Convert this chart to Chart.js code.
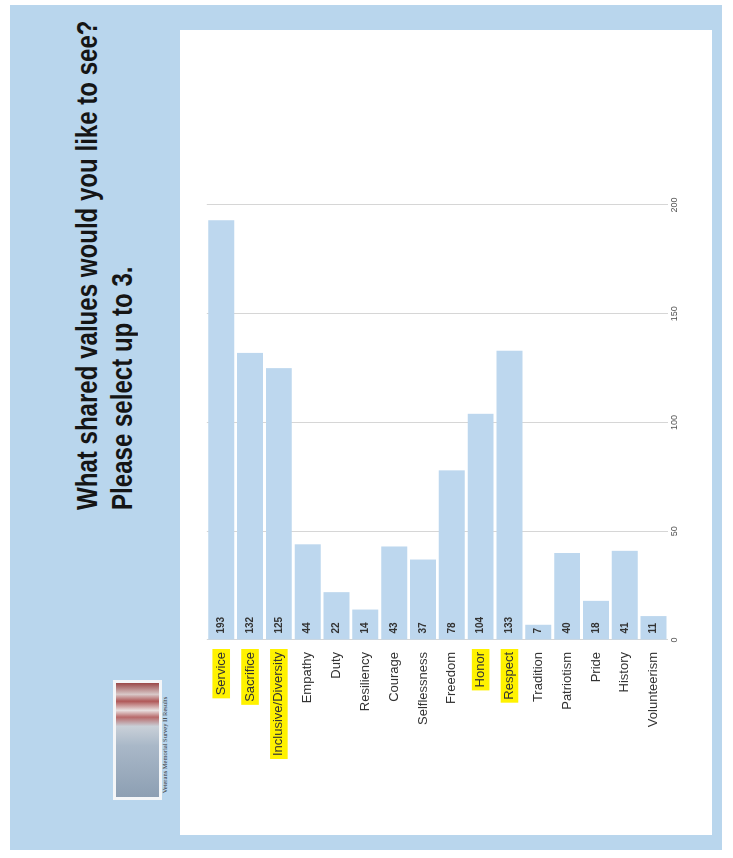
<!DOCTYPE html>
<html>
<head>
<meta charset="utf-8">
<script src="https://cdn.jsdelivr.net/npm/chart.js@4"></script>
<style>
  html, body { margin: 0; padding: 0; background: #fff; }
  body { width: 733px; height: 858px; position: relative; overflow: hidden; }
  /* the slide is laid out upright and then turned a quarter to the left */
  #slide {
    position: absolute; left: 0; top: 0; width: 858px; height: 733px;
    transform-origin: 0 0; transform: translate(0, 858px) rotate(-90deg);
  }
  #frame { position: absolute; left: 8px; top: 10px; width: 845px; height: 712px; background: #b9d6ed; }
  #panel { position: absolute; left: 23px; top: 180px; width: 805px; height: 532px; background: #fff; }
  #title {
    position: absolute; left: 348px; top: 70px;
    font-family: "Liberation Sans", Arial, sans-serif;
    font-weight: bold; font-size: 29px; line-height: 35px; color: #151515; white-space: nowrap;
    transform-origin: 0 0; transform: scaleX(0.83);
  }
  #thumb {
    position: absolute; left: 58px; top: 113px; width: 114px; height: 43px;
    border: 3px solid #f4f6f8;
    background: linear-gradient(90deg, #8d9fb3 0%, #a9b8c8 45%, #c9d0d8 62%, #b86a6a 70%, #e8e0e0 76%, #b05858 84%, #d8c8c8 90%, #9a4848 100%);
  }
  #caption {
    position: absolute; left: 41px; top: 161px; width: 144px; text-align: center;
    font-family: "Liberation Serif", serif; font-size: 6.5px; color: #333; white-space: nowrap;
  }
  #chartBox { position: absolute; left: 30px; top: 195px; width: 660px; height: 500px; }
</style>
</head>
<body>
<div id="slide">
  <div id="frame"></div>
  <div id="panel"></div>
  <div id="title">What shared values would you like to see?<br>Please select up to 3.</div>
  <div id="thumb"></div>
  <div id="caption">Veterans Memorial Survey II Results</div>
  <div id="chartBox"><canvas id="valuesChart" width="660" height="500"></canvas></div>
</div>

<script>
// Survey answers
const categories = ['Service', 'Sacrifice', 'Inclusive/Diversity', 'Empathy', 'Duty', 'Resiliency',
  'Courage', 'Selflessness', 'Freedom', 'Honor', 'Respect', 'Tradition', 'Patriotism', 'Pride',
  'History', 'Volunteerism'];
const votes = [193, 132, 125, 44, 22, 14, 43, 37, 78, 104, 133, 7, 40, 18, 41, 11];
const highlighted = ['Service', 'Sacrifice', 'Inclusive/Diversity', 'Honor', 'Respect'];
const valueTicks = [0, 50, 100, 150, 200];

// Count written at the base of each bar
const barLabels = {
  id: 'barLabels',
  afterDatasetsDraw(chart) {
    const ctx = chart.ctx;
    const meta = chart.getDatasetMeta(0);
    ctx.save();
    ctx.font = 'bold 10px "Liberation Sans", sans-serif';
    ctx.fillStyle = '#333';
    ctx.textAlign = 'left';
    ctx.textBaseline = 'middle';
    meta.data.forEach((bar, i) => {
      ctx.fillText(String(votes[i]), bar.base + 6, bar.y);
    });
    ctx.restore();
  }
};

new Chart(document.getElementById('valuesChart').getContext('2d'), {
  type: 'bar',
  data: {
    labels: categories,
    datasets: [{
      data: votes,
      backgroundColor: '#bdd7ee',
      barPercentage: 0.9,
      categoryPercentage: 1.0
    }]
  },
  options: {
    indexAxis: 'y',
    responsive: false,
    animation: false,
    layout: { padding: { top: 10, right: 37, left: 0, bottom: 0 } },
    plugins: { legend: { display: false }, tooltip: { enabled: false } },
    scales: {
      x: {
        min: valueTicks[0],
        max: valueTicks[valueTicks.length - 1],
        afterBuildTicks: scale => { scale.ticks = valueTicks.map(v => ({ value: v })); },
        grid: { color: '#d6d6d6', drawTicks: false },
        border: { display: false },
        ticks: { color: '#555', font: { size: 9, family: 'Liberation Sans' }, padding: 1 },
        afterFit: scale => { scale.height = 27; }
      },
      y: {
        grid: { display: false },
        border: { display: false },
        ticks: {
          color: '#333',
          font: { size: 13, family: 'Liberation Sans' },
          padding: 4,
          showLabelBackdrop: true,
          backdropPadding: { x: 3, y: 1 },
          backdropColor: c => highlighted.includes(categories[c.index]) ? '#fff200' : 'rgba(0,0,0,0)'
        },
        afterFit: scale => { scale.width = 188; }
      }
    }
  },
  plugins: [barLabels]
});
</script>
</body>
</html>
